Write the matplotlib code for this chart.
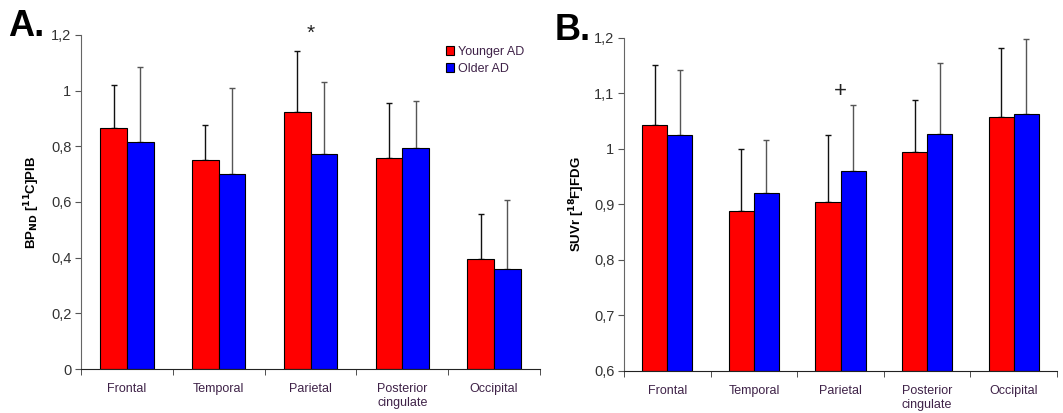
import numpy as np
import matplotlib
matplotlib.use('Agg')
import matplotlib.pyplot as plt

plt.rcParams['font.family'] = ['Liberation Sans', 'DejaVu Sans']

# data
regions = ['Frontal', 'Temporal', 'Parietal', 'Posterior\ncingulate', 'Occipital']
groups = ['Younger AD', 'Older AD']

pib_young = [0.865, 0.750, 0.923, 0.757, 0.395]
pib_young_sd = [0.157, 0.128, 0.218, 0.198, 0.162]
pib_old = [0.817, 0.700, 0.773, 0.794, 0.359]
pib_old_sd = [0.269, 0.308, 0.258, 0.170, 0.249]

fdg_young = [1.043, 0.888, 0.905, 0.995, 1.058]
fdg_young_sd = [0.108, 0.112, 0.120, 0.093, 0.124]
fdg_old = [1.025, 0.920, 0.960, 1.027, 1.063]
fdg_old_sd = [0.117, 0.095, 0.118, 0.128, 0.135]

pib_ticks = [0, 0.2, 0.4, 0.6, 0.8, 1.0, 1.2]
pib_ticklabels = ['0', '0,2', '0,4', '0,6', '0,8', '1', '1,2']
fdg_ticks = [0.6, 0.7, 0.8, 0.9, 1.0, 1.1, 1.2]
fdg_ticklabels = ['0,6', '0,7', '0,8', '0,9', '1', '1,1', '1,2']

RED = '#ff0000'
BLUE = '#0000ff'
XCOL = '#3f2248'
YCOL = '#333333'

fig = plt.figure(figsize=(10.63, 4.13), dpi=100)
axA = fig.add_axes([0.0762, 0.1065, 0.4318, 0.8088])
axB = fig.add_axes([0.587, 0.1017, 0.4074, 0.807])


def draw_panel(ax, young, young_sd, old, old_sd, ylim, ticks, ticklabels, ylabel):
    x = np.arange(len(regions))
    w = 0.29
    base = ylim[0]
    ax.bar(x - w / 2, np.array(young) - base, w, bottom=base, color=RED,
           edgecolor='black', linewidth=0.8, label=groups[0], zorder=2)
    ax.bar(x + w / 2, np.array(old) - base, w, bottom=base, color=BLUE,
           edgecolor='black', linewidth=0.8, label=groups[1], zorder=2)
    ax.errorbar(x - w / 2, young, yerr=[np.zeros(len(x)), young_sd], fmt='none',
                ecolor='#111111', elinewidth=1.0, capsize=2, capthick=1.0, zorder=1)
    ax.errorbar(x + w / 2, old, yerr=[np.zeros(len(x)), old_sd], fmt='none',
                ecolor='#555555', elinewidth=1.0, capsize=2, capthick=1.0, zorder=1)
    ax.set_xlim(-0.5, len(regions) - 0.5)
    ax.set_ylim(*ylim)
    ax.set_yticks(ticks)
    ax.set_yticklabels(ticklabels, fontsize=10.5, color=YCOL)
    ax.set_xticks(x)
    ax.set_xticklabels(regions, fontsize=9, color=XCOL, linespacing=1.2)
    ax.tick_params(axis='x', which='major', length=0, pad=10)
    ax.set_xticks(np.arange(len(regions) + 1) - 0.5, minor=True)
    ax.tick_params(axis='x', which='minor', length=4, direction='out', color='#333333')
    ax.tick_params(axis='y', length=4, direction='out', color='#555555', pad=3)
    for s in ['top', 'right']:
        ax.spines[s].set_visible(False)
    ax.spines['left'].set_color('#666666')
    ax.spines['bottom'].set_color('#222222')
    ax.set_ylabel(ylabel, fontsize=9.5, fontweight='bold')
    ax.yaxis.set_label_coords(-0.085, 0.5)


draw_panel(axA, pib_young, pib_young_sd, pib_old, pib_old_sd, (0, 1.2),
           pib_ticks, pib_ticklabels, r'BP$_{\mathbf{ND}}$ [$^{\mathbf{11}}$C]PIB')
draw_panel(axB, fdg_young, fdg_young_sd, fdg_old, fdg_old_sd, (0.6, 1.2),
           fdg_ticks, fdg_ticklabels, r'SUVr [$^{\mathbf{18}}$F]FDG')

axA.legend(loc='upper left', bbox_to_anchor=(0.77, 1.0), frameon=False,
           fontsize=9, handlelength=0.7, handleheight=0.7, handletextpad=0.3,
           labelspacing=0.35, labelcolor=XCOL)

# significance markers above Parietal
axA.text(2.0, 1.205, '*', ha='center', va='center', fontsize=15, color='#222222')
axB.text(2.0, 1.103, '+', ha='center', va='center', fontsize=16, color='#222222')

fig.text(0.008, 0.935, 'A.', fontsize=26, fontweight='bold', va='center')
fig.text(0.522, 0.925, 'B.', fontsize=26, fontweight='bold', va='center')

fig.savefig('out.png', dpi=100)
